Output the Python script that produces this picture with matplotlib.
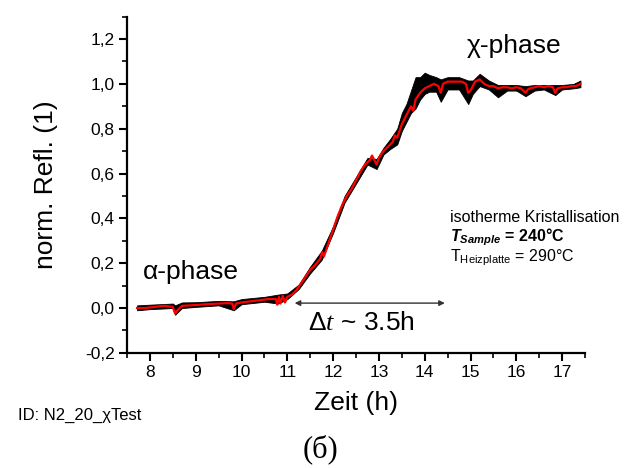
import matplotlib
matplotlib.use("Agg")
import matplotlib.pyplot as plt
from matplotlib.ticker import MultipleLocator, FuncFormatter

plt.rcParams['font.family'] = ['Liberation Sans', 'DejaVu Sans']
plt.rcParams['mathtext.fontset'] = 'custom'
plt.rcParams['mathtext.rm'] = 'Liberation Sans'
plt.rcParams['mathtext.it'] = 'Liberation Serif:italic'
plt.rcParams['mathtext.bf'] = 'Liberation Sans:italic:bold'

# geglättete Kurve (rot)
red_t = [7.72, 7.9, 8.1, 8.3, 8.5, 8.55, 8.6, 8.7, 8.9, 9.1, 9.3, 9.5, 9.7, 9.8,
         9.83, 9.88, 10.0, 10.2, 10.4, 10.6, 10.75, 10.78, 10.82, 10.85, 10.9,
         10.95, 11.0, 11.1, 11.2, 11.3, 11.4, 11.5, 11.6, 11.72, 11.76, 11.8,
         11.9, 12.0, 12.1, 12.2, 12.3, 12.4, 12.5, 12.6, 12.7, 12.8, 12.85, 12.9,
         12.95, 13.0, 13.1, 13.2, 13.3, 13.35, 13.4, 13.5, 13.6, 13.7, 13.75,
         13.8, 13.9, 14.0, 14.1, 14.2, 14.3, 14.35, 14.4, 14.5, 14.6, 14.7, 14.8,
         14.9, 14.95, 15.0, 15.1, 15.2, 15.3, 15.4, 15.5, 15.6, 15.7, 15.8, 15.9,
         16.0, 16.1, 16.2, 16.25, 16.3, 16.4, 16.5, 16.6, 16.7, 16.8, 16.85,
         16.9, 17.0, 17.1, 17.2, 17.3, 17.4]
red_y = [0.0, 0.0, 0.005, 0.01, 0.005, -0.025, -0.01, 0.01, 0.012, 0.015, 0.018,
         0.02, 0.022, 0.02, -0.005, 0.02, 0.025, 0.03, 0.035, 0.04, 0.04, 0.015,
         0.05, 0.02, 0.055, 0.025, 0.05, 0.06, 0.08, 0.11, 0.14, 0.17, 0.19,
         0.22, 0.25, 0.23, 0.29, 0.35, 0.41, 0.46, 0.50, 0.53, 0.57, 0.61, 0.64,
         0.66, 0.68, 0.66, 0.64, 0.67, 0.70, 0.72, 0.74, 0.77, 0.76, 0.82, 0.86,
         0.90, 0.88, 0.93, 0.96, 0.98, 0.99, 1.00, 0.99, 0.96, 1.00, 1.01, 1.01,
         1.01, 1.01, 1.00, 0.96, 0.97, 1.01, 1.02, 1.00, 0.99, 0.99, 0.98, 0.985,
         0.985, 0.98, 0.985, 0.98, 0.96, 0.975, 0.98, 0.985, 0.99, 0.985, 0.99,
         0.985, 0.96, 0.98, 0.985, 0.985, 0.99, 0.99, 1.00]

# Rohdaten (schwarz) als Streuband
blk_t = [7.72, 8.0, 8.5, 8.55, 8.7, 9.0, 9.5, 9.83, 10.0, 10.5, 10.8, 11.0,
         11.25, 11.5, 11.75, 12.0, 12.25, 12.5, 12.75, 12.95, 13.1, 13.25, 13.4,
         13.5, 13.6, 13.7, 13.8, 13.9, 14.0, 14.1, 14.25, 14.35, 14.5, 14.75,
         14.95, 15.05, 15.2, 15.4, 15.6, 15.8, 16.0, 16.2, 16.4, 16.6, 16.85,
         17.0, 17.25, 17.4]
blk_lo = [-0.01, -0.005, 0.0, -0.03, 0.0, 0.005, 0.012, -0.01, 0.017, 0.028,
          0.02, 0.04, 0.085, 0.155, 0.215, 0.335, 0.47, 0.555, 0.64, 0.62, 0.685,
          0.71, 0.73, 0.79, 0.83, 0.87, 0.89, 0.93, 0.955, 0.965, 0.965, 0.92,
          0.975, 0.975, 0.91, 0.955, 0.99, 0.975, 0.94, 0.97, 0.97, 0.945, 0.97,
          0.975, 0.95, 0.975, 0.98, 0.985]
blk_hi = [0.012, 0.015, 0.02, 0.012, 0.025, 0.026, 0.032, 0.03, 0.04, 0.05,
          0.06, 0.065, 0.105, 0.185, 0.255, 0.365, 0.50, 0.585, 0.67, 0.665,
          0.715, 0.755, 0.80, 0.87, 0.91, 0.97, 1.03, 1.03, 1.05, 1.04, 1.03,
          1.02, 1.03, 1.03, 1.015, 1.015, 1.045, 1.015, 0.995, 0.995, 0.995,
          0.99, 0.995, 0.995, 0.995, 0.995, 1.0, 1.015]

fig = plt.figure(figsize=(6.3, 4.68), dpi=100)
ax = fig.add_axes([0.2016, 0.246, 0.727, 0.7185])

ax.fill_between(blk_t, blk_lo, blk_hi, color='black', lw=0.6)
ax.plot(red_t, red_y, color='#ff0000', lw=1.6)

ax.set_xlim(7.5, 17.5)
ax.set_ylim(-0.2, 1.3)
ax.xaxis.set_major_locator(MultipleLocator(1))
ax.xaxis.set_minor_locator(MultipleLocator(0.5))
ax.yaxis.set_major_locator(MultipleLocator(0.2))
ax.yaxis.set_minor_locator(MultipleLocator(0.1))
ax.yaxis.set_major_formatter(FuncFormatter(lambda v, p: f'{v:.1f}'.replace('.', ',').replace('-0,0', '0,0')))
for s in ['top', 'right']:
    ax.spines[s].set_visible(False)
for s in ['left', 'bottom']:
    ax.spines[s].set_linewidth(1.6)
ax.tick_params(which='major', direction='out', length=6, width=1.5, labelsize=12.5, pad=3)
ax.tick_params(which='minor', direction='out', length=3.5, width=1.2)

ax.set_xlabel('Zeit (h)', fontsize=19, labelpad=8)
ax.set_ylabel('norm. Refl. (1)', fontsize=19, labelpad=19)

ax.text(15.95, 1.17, 'χ-phase', fontsize=19, ha='center', va='center')
ax.text(7.85, 0.16, 'α-phase', fontsize=19, ha='left', va='center')
ax.annotate('', xy=(11.1, 0.022), xytext=(14.5, 0.022),
            arrowprops=dict(arrowstyle='<|-|>', color='#333333', lw=1, mutation_scale=8))
ax.text(11.45, -0.065, 'Δ$t$ ~ 3.5h', fontsize=19, ha='left', va='center')

ax.text(14.55, 0.405, 'isotherme Kristallisation', fontsize=11.5, ha='left', va='center')
ax.text(14.55, 0.315, r'$\mathbf{T}_{\mathbf{Sample}}$ = 240°C', fontsize=11.5,
        fontweight='bold', ha='left', va='center')
ax.text(14.55, 0.225, r'T$_{\mathrm{Heizplatte}}$ = 290°C', fontsize=11.5, ha='left', va='center')

fig.text(18 / 630, 1 - 415 / 468, 'ID: N2_20_χTest', fontsize=12, ha='left', va='center')
fig.text(320 / 630, 1 - 449 / 468, '(б)', fontsize=22, ha='center', va='center',
         family='Liberation Serif')

fig.savefig('out.png', dpi=100)
